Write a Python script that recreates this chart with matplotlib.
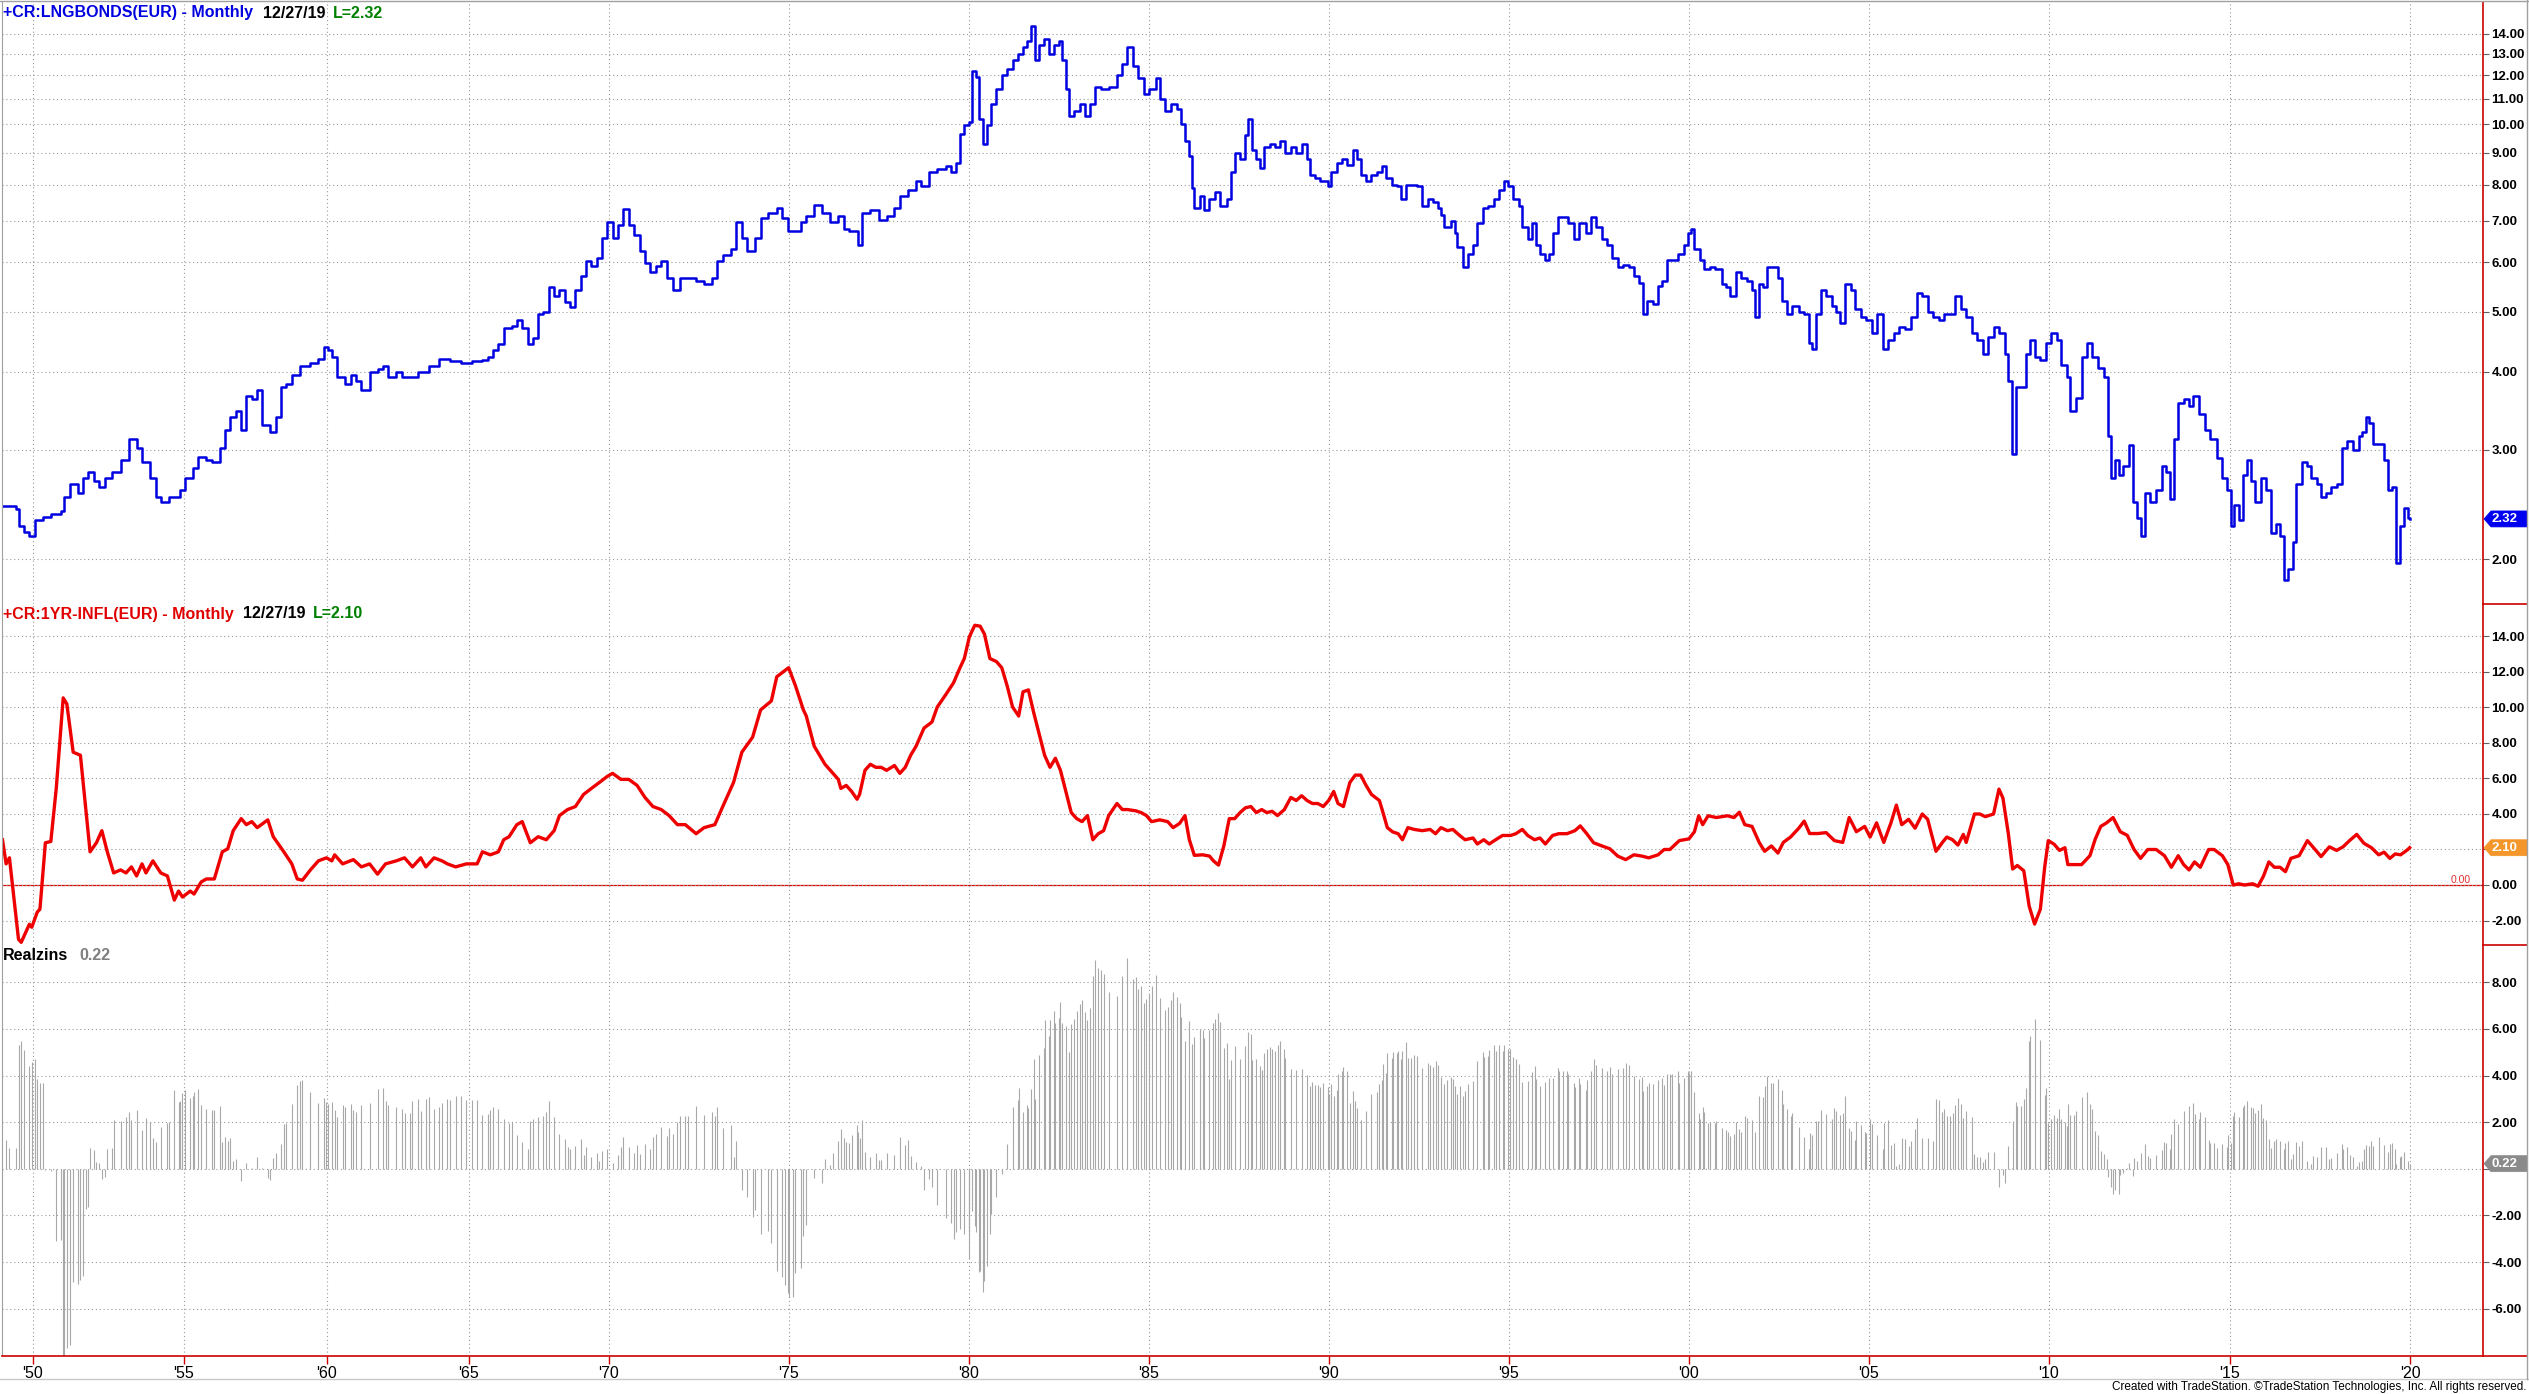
import numpy as np
import matplotlib
matplotlib.use('Agg')
import matplotlib.pyplot as plt
from matplotlib.lines import Line2D
from matplotlib.patches import Polygon
from matplotlib.ticker import NullLocator

plt.rcParams['font.family'] = ['Liberation Sans', 'DejaVu Sans']

# ---- long bond yield (monthly bars) ----
bond_years = [
    1948.99, 1949.43, 1949.52, 1949.70, 1949.88, 1950.05, 1950.32, 1950.59, 1950.94, 1951.03,
    1951.21, 1951.48, 1951.65, 1951.83, 1952.01, 1952.19, 1952.37, 1952.63, 1952.90, 1953.17,
    1953.43, 1953.61, 1953.88, 1954.06, 1954.23, 1954.50, 1954.86, 1955.04, 1955.32, 1955.50,
    1955.78, 1955.97, 1956.25, 1956.44, 1956.62, 1956.81, 1957.00, 1957.18, 1957.37, 1957.56,
    1957.74, 1958.02, 1958.21, 1958.40, 1958.58, 1958.77, 1959.05, 1959.42, 1959.70, 1959.89,
    1960.02, 1960.17, 1960.36, 1960.64, 1960.83, 1961.02, 1961.21, 1961.50, 1961.78, 1961.97,
    1962.16, 1962.44, 1962.63, 1962.92, 1963.20, 1963.58, 1963.96, 1964.34, 1964.72, 1965.10,
    1965.48, 1965.67, 1965.86, 1966.05, 1966.24, 1966.52, 1966.71, 1966.90, 1967.09, 1967.28,
    1967.47, 1967.66, 1967.85, 1968.04, 1968.23, 1968.42, 1968.61, 1968.80, 1968.99, 1969.18,
    1969.37, 1969.56, 1969.75, 1969.94, 1970.10, 1970.25, 1970.40, 1970.55, 1970.70, 1970.85,
    1971.00, 1971.15, 1971.30, 1971.45, 1971.60, 1971.79, 1971.97, 1972.19, 1972.42, 1972.64,
    1972.87, 1973.01, 1973.16, 1973.39, 1973.54, 1973.69, 1973.84, 1974.06, 1974.21, 1974.43,
    1974.66, 1974.81, 1974.96, 1975.10, 1975.33, 1975.48, 1975.70, 1975.93, 1976.15, 1976.37,
    1976.52, 1976.67, 1976.92, 1977.04, 1977.26, 1977.49, 1977.71, 1977.93, 1978.08, 1978.30,
    1978.53, 1978.68, 1978.90, 1979.12, 1979.35, 1979.49, 1979.64, 1979.75, 1979.87, 1979.99,
    1980.09, 1980.19, 1980.27, 1980.39, 1980.49, 1980.61, 1980.76, 1980.91, 1981.06, 1981.21,
    1981.36, 1981.50, 1981.61, 1981.73, 1981.83, 1981.95, 1982.07, 1982.22, 1982.37, 1982.49,
    1982.57, 1982.69, 1982.77, 1982.92, 1983.07, 1983.21, 1983.36, 1983.51, 1983.66, 1983.88,
    1984.11, 1984.26, 1984.40, 1984.55, 1984.70, 1984.85, 1985.00, 1985.19, 1985.30, 1985.45,
    1985.60, 1985.79, 1985.89, 1986.00, 1986.12, 1986.19, 1986.26, 1986.41, 1986.53, 1986.68,
    1986.83, 1986.98, 1987.16, 1987.28, 1987.38, 1987.53, 1987.68, 1987.75, 1987.87, 1987.98,
    1988.08, 1988.20, 1988.35, 1988.50, 1988.65, 1988.79, 1988.94, 1989.09, 1989.24, 1989.39,
    1989.46, 1989.61, 1989.76, 1989.96, 1990.06, 1990.21, 1990.36, 1990.51, 1990.66, 1990.77,
    1990.88, 1991.03, 1991.18, 1991.32, 1991.47, 1991.59, 1991.74, 1991.89, 1991.99, 1992.14,
    1992.29, 1992.44, 1992.59, 1992.74, 1992.89, 1993.04, 1993.11, 1993.19, 1993.38, 1993.49,
    1993.56, 1993.71, 1993.85, 1994.00, 1994.12, 1994.27, 1994.42, 1994.57, 1994.72, 1994.85,
    1994.97, 1995.12, 1995.27, 1995.37, 1995.52, 1995.64, 1995.76, 1995.86, 1996.01, 1996.12,
    1996.21, 1996.35, 1996.50, 1996.65, 1996.80, 1996.95, 1997.13, 1997.28, 1997.43, 1997.57,
    1997.72, 1997.87, 1998.02, 1998.17, 1998.32, 1998.47, 1998.62, 1998.72, 1998.84, 1998.99,
    1999.14, 1999.24, 1999.39, 1999.54, 1999.70, 1999.85, 1999.97, 2000.05, 2000.15, 2000.30,
    2000.43, 2000.58, 2000.73, 2000.91, 2001.04, 2001.14, 2001.30, 2001.45, 2001.60, 2001.75,
    2001.83, 2001.95, 2002.06, 2002.18, 2002.33, 2002.47, 2002.59, 2002.71, 2002.87, 2003.05,
    2003.20, 2003.32, 2003.43, 2003.54, 2003.66, 2003.81, 2003.96, 2004.09, 2004.19, 2004.34,
    2004.50, 2004.62, 2004.77, 2004.92, 2005.08, 2005.23, 2005.38, 2005.53, 2005.69, 2005.84,
    2005.99, 2006.17, 2006.33, 2006.48, 2006.63, 2006.78, 2006.94, 2007.09, 2007.24, 2007.39,
    2007.55, 2007.70, 2007.85, 2008.00, 2008.16, 2008.31, 2008.46, 2008.61, 2008.77, 2008.87,
    2008.96, 2009.07, 2009.22, 2009.37, 2009.48, 2009.60, 2009.76, 2009.91, 2010.06, 2010.21,
    2010.34, 2010.49, 2010.59, 2010.75, 2010.90, 2011.05, 2011.20, 2011.36, 2011.51, 2011.62,
    2011.71, 2011.81, 2011.92, 2012.04, 2012.20, 2012.32, 2012.42, 2012.53, 2012.65, 2012.80,
    2012.96, 2013.11, 2013.23, 2013.34, 2013.45, 2013.57, 2013.72, 2013.87, 2013.99, 2014.15,
    2014.30, 2014.45, 2014.63, 2014.79, 2014.91, 2015.02, 2015.12, 2015.24, 2015.37, 2015.47,
    2015.58, 2015.70, 2015.85, 2016.01, 2016.13, 2016.28, 2016.39, 2016.49, 2016.62, 2016.74,
    2016.84, 2017.00, 2017.15, 2017.26, 2017.41, 2017.53, 2017.68, 2017.80, 2017.96, 2018.11,
    2018.26, 2018.41, 2018.57, 2018.67, 2018.78, 2018.87, 2018.98, 2019.13, 2019.28, 2019.39,
    2019.51, 2019.60, 2019.71, 2019.82, 2019.94, 2019.99,
]
bond_vals = [
    2.43, 2.41, 2.26, 2.21, 2.18, 2.31, 2.34, 2.36, 2.39, 2.52,
    2.64, 2.55, 2.70, 2.76, 2.67, 2.61, 2.70, 2.76, 2.89, 3.12,
    3.02, 2.86, 2.70, 2.52, 2.47, 2.52, 2.58, 2.70, 2.80, 2.92,
    2.89, 2.86, 3.02, 3.23, 3.38, 3.46, 3.23, 3.66, 3.62, 3.74,
    3.28, 3.20, 3.38, 3.78, 3.83, 3.95, 4.09, 4.14, 4.19, 4.38,
    4.33, 4.23, 3.92, 3.83, 3.95, 3.87, 3.74, 4.00, 4.05, 4.09,
    3.92, 4.00, 3.92, 3.92, 4.00, 4.09, 4.19, 4.16, 4.14, 4.16,
    4.18, 4.23, 4.33, 4.43, 4.70, 4.74, 4.84, 4.70, 4.43, 4.53,
    4.95, 5.00, 5.47, 5.30, 5.41, 5.18, 5.08, 5.41, 5.71, 6.04,
    5.93, 6.10, 6.56, 6.96, 6.56, 6.89, 7.30, 6.89, 6.63, 6.26,
    5.99, 5.79, 5.93, 6.04, 5.66, 5.41, 5.66, 5.66, 5.60, 5.54,
    5.66, 6.04, 6.17, 6.30, 6.96, 6.56, 6.26, 6.56, 7.07, 7.20,
    7.34, 7.07, 6.73, 6.73, 6.96, 7.13, 7.42, 7.20, 6.96, 7.13,
    6.78, 6.73, 6.41, 7.20, 7.29, 7.02, 7.13, 7.33, 7.67, 7.85,
    8.12, 7.95, 8.39, 8.49, 8.58, 8.39, 8.67, 9.64, 9.98, 10.10,
    12.17, 11.91, 10.20, 9.30, 9.98, 10.80, 11.40, 12.00, 12.30, 12.70,
    13.00, 13.30, 13.60, 14.40, 12.70, 13.40, 13.70, 13.00, 13.40, 13.60,
    12.70, 11.40, 10.30, 10.50, 10.80, 10.30, 10.80, 11.50, 11.40, 11.50,
    12.00, 12.50, 13.30, 12.40, 11.90, 11.20, 11.40, 11.90, 11.00, 10.50,
    10.80, 10.60, 10.00, 9.40, 8.90, 7.90, 7.33, 7.67, 7.29, 7.60,
    7.80, 7.40, 7.60, 8.39, 9.00, 8.80, 9.60, 10.20, 9.10, 8.80,
    8.50, 9.20, 9.30, 9.20, 9.40, 9.00, 9.20, 9.00, 9.30, 8.80,
    8.30, 8.20, 8.10, 7.95, 8.39, 8.67, 8.80, 8.60, 9.10, 8.80,
    8.30, 8.10, 8.30, 8.39, 8.58, 8.20, 8.00, 7.95, 7.60, 8.00,
    8.00, 7.95, 7.40, 7.60, 7.50, 7.33, 7.15, 6.85, 7.00, 6.70,
    6.35, 5.90, 6.20, 6.40, 6.95, 7.33, 7.40, 7.60, 7.85, 8.12,
    7.95, 7.60, 7.40, 6.85, 6.55, 6.95, 6.40, 6.20, 6.05, 6.20,
    6.70, 7.10, 7.10, 6.95, 6.55, 6.95, 6.70, 7.10, 6.85, 6.55,
    6.40, 6.10, 5.90, 5.95, 5.90, 5.70, 5.55, 4.95, 5.20, 5.15,
    5.50, 5.60, 6.05, 6.05, 6.20, 6.40, 6.70, 6.78, 6.30, 6.05,
    5.85, 5.90, 5.85, 5.54, 5.47, 5.30, 5.80, 5.66, 5.60, 5.41,
    4.90, 5.54, 5.47, 5.90, 5.90, 5.66, 5.20, 4.95, 5.10, 5.00,
    4.95, 4.45, 4.36, 4.95, 5.41, 5.30, 5.10, 5.00, 4.80, 5.54,
    5.41, 5.05, 4.90, 4.85, 4.62, 4.95, 4.36, 4.50, 4.62, 4.72,
    4.68, 4.90, 5.36, 5.30, 5.00, 4.90, 4.85, 4.95, 4.95, 5.30,
    5.05, 4.90, 4.62, 4.50, 4.28, 4.55, 4.72, 4.62, 4.27, 3.86,
    2.95, 3.78, 3.78, 4.28, 4.50, 4.23, 4.18, 4.45, 4.62, 4.50,
    4.10, 3.92, 3.46, 3.63, 4.23, 4.45, 4.23, 4.06, 3.92, 3.16,
    2.70, 2.89, 2.73, 2.82, 3.05, 2.47, 2.33, 2.18, 2.55, 2.47,
    2.58, 2.82, 2.76, 2.50, 3.12, 3.57, 3.62, 3.53, 3.66, 3.42,
    3.23, 3.12, 2.91, 2.70, 2.58, 2.26, 2.44, 2.31, 2.73, 2.89,
    2.67, 2.47, 2.70, 2.58, 2.20, 2.28, 2.18, 1.85, 1.93, 2.13,
    2.64, 2.86, 2.82, 2.70, 2.64, 2.52, 2.55, 2.61, 2.64, 3.02,
    3.10, 2.99, 3.16, 3.20, 3.38, 3.31, 3.06, 3.06, 2.89, 2.58,
    2.61, 1.97, 2.26, 2.42, 2.33, 2.32,
]

# ---- 1 year inflation (line) ----
infl_years = [
    1948.99, 1949.11, 1949.22, 1949.52, 1949.61, 1949.70, 1949.88, 1949.96, 1950.14, 1950.23,
    1950.41, 1950.59, 1950.77, 1951.00, 1951.12, 1951.33, 1951.57, 1951.74, 1951.89, 1952.10,
    1952.28, 1952.46, 1952.67, 1952.90, 1953.08, 1953.26, 1953.43, 1953.61, 1953.74, 1953.97,
    1954.23, 1954.45, 1954.68, 1954.82, 1954.95, 1955.22, 1955.35, 1955.60, 1955.78, 1956.06,
    1956.34, 1956.53, 1956.72, 1957.00, 1957.18, 1957.37, 1957.56, 1957.93, 1958.12, 1958.49,
    1958.77, 1958.96, 1959.14, 1959.42, 1959.70, 1959.98, 1960.17, 1960.27, 1960.55, 1960.93,
    1961.21, 1961.50, 1961.78, 1962.06, 1962.44, 1962.73, 1963.01, 1963.30, 1963.48, 1963.77,
    1964.05, 1964.24, 1964.53, 1964.91, 1965.29, 1965.48, 1965.76, 1966.05, 1966.24, 1966.43,
    1966.71, 1966.90, 1967.19, 1967.47, 1967.76, 1968.04, 1968.23, 1968.52, 1968.80, 1969.09,
    1969.37, 1969.66, 1969.94, 1970.10, 1970.33, 1970.55, 1970.78, 1971.00, 1971.22, 1971.45,
    1971.67, 1971.90, 1972.12, 1972.42, 1972.64, 1972.94, 1973.16, 1973.46, 1973.69, 1973.99,
    1974.21, 1974.51, 1974.66, 1974.88, 1974.99, 1975.18, 1975.40, 1975.48, 1975.70, 1976.00,
    1976.22, 1976.37, 1976.44, 1976.59, 1976.74, 1976.89, 1976.96, 1977.11, 1977.26, 1977.41,
    1977.56, 1977.71, 1977.93, 1978.08, 1978.23, 1978.38, 1978.53, 1978.75, 1978.97, 1979.12,
    1979.35, 1979.57, 1979.75, 1979.87, 1980.01, 1980.16, 1980.31, 1980.43, 1980.58, 1980.76,
    1980.91, 1981.06, 1981.21, 1981.38, 1981.50, 1981.65, 1981.80, 1981.95, 1982.10, 1982.25,
    1982.40, 1982.54, 1982.69, 1982.84, 1982.99, 1983.14, 1983.29, 1983.44, 1983.59, 1983.74,
    1983.88, 1984.11, 1984.26, 1984.40, 1984.63, 1984.78, 1984.93, 1985.07, 1985.30, 1985.52,
    1985.67, 1985.85, 1986.00, 1986.12, 1986.26, 1986.49, 1986.68, 1986.79, 1986.93, 1987.08,
    1987.23, 1987.38, 1987.53, 1987.68, 1987.83, 1987.98, 1988.13, 1988.27, 1988.42, 1988.57,
    1988.76, 1988.94, 1989.09, 1989.24, 1989.39, 1989.54, 1989.69, 1989.84, 1989.99, 1990.13,
    1990.25, 1990.40, 1990.58, 1990.73, 1990.88, 1991.03, 1991.18, 1991.40, 1991.50, 1991.62,
    1991.77, 1991.92, 1992.04, 1992.19, 1992.37, 1992.59, 1992.81, 1992.96, 1993.11, 1993.29,
    1993.44, 1993.63, 1993.78, 1994.00, 1994.12, 1994.30, 1994.45, 1994.63, 1994.82, 1995.04,
    1995.19, 1995.37, 1995.52, 1995.71, 1995.86, 1996.01, 1996.21, 1996.38, 1996.61, 1996.83,
    1996.98, 1997.16, 1997.35, 1997.57, 1997.80, 1998.02, 1998.24, 1998.47, 1998.69, 1998.88,
    1999.14, 1999.31, 1999.47, 1999.73, 2000.00, 2000.15, 2000.27, 2000.38, 2000.53, 2000.76,
    2001.07, 2001.25, 2001.40, 2001.55, 2001.75, 2001.95, 2002.10, 2002.29, 2002.47, 2002.62,
    2002.82, 2003.05, 2003.20, 2003.35, 2003.58, 2003.81, 2004.04, 2004.27, 2004.45, 2004.65,
    2004.88, 2005.03, 2005.21, 2005.41, 2005.61, 2005.76, 2005.91, 2006.10, 2006.28, 2006.48,
    2006.63, 2006.86, 2007.04, 2007.16, 2007.32, 2007.47, 2007.62, 2007.70, 2007.93, 2008.08,
    2008.23, 2008.46, 2008.61, 2008.72, 2008.87, 2008.99, 2009.12, 2009.30, 2009.45, 2009.60,
    2009.76, 2009.88, 2009.98, 2010.14, 2010.29, 2010.44, 2010.52, 2010.70, 2010.90, 2011.13,
    2011.28, 2011.43, 2011.59, 2011.77, 2011.97, 2012.16, 2012.35, 2012.53, 2012.73, 2012.96,
    2013.19, 2013.38, 2013.57, 2013.72, 2013.87, 2014.02, 2014.18, 2014.41, 2014.56, 2014.79,
    2014.94, 2015.09, 2015.24, 2015.40, 2015.63, 2015.78, 2015.93, 2016.08, 2016.23, 2016.39,
    2016.54, 2016.69, 2016.92, 2017.15, 2017.30, 2017.53, 2017.76, 2017.96, 2018.14, 2018.32,
    2018.52, 2018.72, 2018.93, 2019.13, 2019.28, 2019.44, 2019.59, 2019.74, 2019.94, 2019.99,
]
infl_vals = [
    2.55, 1.19, 1.53, -3.06, -3.23, -2.89, -2.21, -2.38, -1.53, -1.36,
    2.38, 2.45, 5.44, 10.54, 10.20, 7.48, 7.31, 4.42, 1.87, 2.38,
    3.06, 1.87, 0.68, 0.85, 0.68, 1.02, 0.51, 1.19, 0.68, 1.36,
    0.68, 0.51, -0.85, -0.34, -0.68, -0.34, -0.51, 0.17, 0.34, 0.34,
    1.87, 2.04, 3.06, 3.74, 3.40, 3.57, 3.23, 3.67, 2.72, 1.87,
    1.19, 0.34, 0.27, 0.85, 1.36, 1.53, 1.36, 1.70, 1.19, 1.43,
    1.02, 1.19, 0.61, 1.19, 1.36, 1.53, 1.02, 1.53, 1.02, 1.53,
    1.36, 1.19, 1.02, 1.19, 1.19, 1.87, 1.70, 1.87, 2.55, 2.72,
    3.40, 3.57, 2.38, 2.72, 2.55, 3.06, 3.91, 4.25, 4.42, 5.10,
    5.44, 5.78, 6.12, 6.29, 5.95, 5.95, 5.61, 4.93, 4.42, 4.25,
    3.91, 3.40, 3.40, 2.89, 3.23, 3.40, 4.42, 5.78, 7.48, 8.33,
    9.86, 10.37, 11.73, 12.07, 12.24, 11.22, 9.86, 9.52, 7.82, 6.80,
    6.29, 5.95, 5.44, 5.61, 5.27, 4.83, 5.10, 6.46, 6.80, 6.63,
    6.63, 6.46, 6.73, 6.29, 6.63, 7.31, 7.82, 8.84, 9.18, 10.03,
    10.71, 11.39, 12.24, 12.76, 13.98, 14.63, 14.58, 14.13, 12.76, 12.59,
    12.24, 11.22, 10.03, 9.52, 10.88, 10.99, 9.69, 8.50, 7.31, 6.63,
    7.14, 6.46, 5.27, 4.08, 3.74, 3.57, 3.91, 2.55, 2.89, 3.06,
    3.91, 4.59, 4.25, 4.25, 4.18, 4.08, 3.91, 3.57, 3.67, 3.57,
    3.23, 3.47, 3.91, 2.55, 1.67, 1.70, 1.63, 1.36, 1.12, 2.21,
    3.74, 3.74, 4.08, 4.35, 4.42, 4.08, 4.25, 4.08, 4.15, 3.91,
    4.25, 4.93, 4.76, 5.03, 4.76, 4.59, 4.59, 4.42, 4.76, 5.27,
    4.59, 4.42, 5.78, 6.19, 6.19, 5.61, 5.10, 4.76, 4.08, 3.23,
    2.99, 2.89, 2.55, 3.23, 3.13, 3.06, 3.13, 2.89, 3.23, 3.06,
    3.13, 2.79, 2.55, 2.65, 2.31, 2.55, 2.31, 2.55, 2.79, 2.79,
    2.89, 3.13, 2.79, 2.55, 2.65, 2.31, 2.79, 2.89, 2.89, 3.06,
    3.33, 2.89, 2.38, 2.21, 2.04, 1.63, 1.43, 1.70, 1.63, 1.53,
    1.70, 2.00, 2.00, 2.50, 2.60, 3.00, 3.90, 3.40, 3.90, 3.80,
    3.90, 3.80, 4.10, 3.40, 3.30, 2.40, 1.90, 2.20, 1.80, 2.40,
    2.70, 3.20, 3.60, 2.90, 2.90, 2.95, 2.50, 2.40, 3.80, 3.00,
    3.30, 2.70, 3.50, 2.40, 3.50, 4.50, 3.40, 3.70, 3.20, 4.00,
    3.70, 1.90, 2.40, 2.70, 2.55, 2.25, 2.85, 2.40, 4.00, 4.00,
    3.85, 4.00, 5.40, 4.90, 2.90, 0.90, 1.10, 0.80, -1.20, -2.20,
    -1.36, 1.00, 2.50, 2.30, 1.95, 2.10, 1.15, 1.15, 1.15, 1.65,
    2.60, 3.30, 3.50, 3.80, 3.00, 2.80, 2.00, 1.50, 2.00, 2.00,
    1.65, 1.00, 1.65, 1.15, 0.85, 1.30, 1.00, 2.00, 2.00, 1.65,
    1.15, 0.00, 0.07, 0.00, 0.07, -0.07, 0.50, 1.30, 1.00, 1.00,
    0.75, 1.50, 1.65, 2.50, 2.15, 1.60, 2.15, 1.95, 2.15, 2.50,
    2.85, 2.35, 2.10, 1.70, 1.85, 1.50, 1.75, 1.70, 2.00, 2.10,
]

# Realzins = long bond yield minus inflation, at every reading of either series
# (each series holds its last reading, as a monthly bar chart does)
_b_years = np.array(bond_years)
_b_vals = np.array(bond_vals)
_i_years = np.array(infl_years)
_i_vals = np.array(infl_vals)
real_years = np.union1d(_b_years, _i_years)
_bi = np.clip(np.searchsorted(_b_years, real_years, side='right') - 1, 0, None)
_ii = np.clip(np.searchsorted(_i_years, real_years, side='right') - 1, 0, None)
real_vals = _b_vals[_bi] - _i_vals[_ii]

# ---- layout (pixels of a 2529 x 1394 canvas) ----
W, H = 2529, 1394
fig = plt.figure(figsize=(W / 100, H / 100), dpi=100)
fig.patch.set_facecolor('white')

RED = '#cc0000'
GRID = '#9a9a9a'
NARROW = ['Liberation Sans Narrow', 'Liberation Sans', 'DejaVu Sans']

tick_years = [1950, 1955, 1960, 1965, 1970, 1975, 1980, 1985, 1990, 1995, 2000, 2005, 2010, 2015, 2020]
tick_px = [33, 184, 327, 469, 609, 789, 969, 1149, 1329, 1509, 1689, 1869, 2049, 2230, 2410]
tick_labels = ["'50", "'55", "'60", "'65", "'70", "'75", "'80", "'85", "'90", "'95",
               "'00", "'05", "'10", "'15", "'20"]

anc_y = np.array([1900] + tick_years + [2100], dtype=float)
anc_p = np.array([33 - 50 * 30.2] + tick_px + [2410 + 80 * 36], dtype=float)


def fwd(x):
    return np.interp(x, anc_y, anc_p)


def inv(p):
    return np.interp(p, anc_p, anc_y)


LEFT, RIGHT = 2, 2483


def fx(px):
    return px / W


def fy(py):
    return 1 - py / H


def make_ax(top, bottom):
    ax = fig.add_axes([fx(LEFT), fy(bottom), (RIGHT - LEFT) / W, (bottom - top) / H])
    ax.set_xscale('function', functions=(fwd, inv))
    ax.set_xlim(inv(LEFT), inv(RIGHT))
    ax.set_xticks(tick_years)
    ax.xaxis.set_minor_locator(NullLocator())
    ax.yaxis.tick_right()
    ax.tick_params(axis='y', direction='out', length=4, width=0.8, color='#606060',
                   labelsize=9.5, pad=2)
    ax.tick_params(axis='x', length=0, labelbottom=False)
    ax.grid(True, color=GRID, linestyle=(0, (1, 2.5)), linewidth=0.8)
    for s in ['top', 'bottom']:
        ax.spines[s].set_visible(False)
    ax.spines['left'].set_color('#a0a0a0')
    ax.spines['right'].set_color(RED)
    ax.spines['right'].set_linewidth(1.2)
    return ax


def bold_ticks(ax, ticks, hide=()):
    ax.set_yticks(ticks)
    ax.set_yticklabels(['' if t in hide else '%.2f' % t for t in ticks], fontweight='bold')
    ax.yaxis.set_minor_locator(NullLocator())


# top panel: long bond yield, log scale
ax1 = make_ax(2, 604)
ax1.set_yscale('log')
ax1.set_ylim(1.693, 15.74)
bold_ticks(ax1, [2, 3, 4, 5, 6, 7, 8, 9, 10, 11, 12, 13, 14])
ax1.step(bond_years, bond_vals, where='post', color='#0000e0', lw=1.8)

# middle panel: inflation
ax2 = make_ax(604.7, 945)
ax2.set_ylim(-3.38, 15.79)
bold_ticks(ax2, [-2, 0, 2, 4, 6, 8, 10, 12, 14])
ax2.axhline(0, color='#e00000', lw=0.9, zorder=1)
ax2.plot(infl_years, infl_vals, color='#ee0000', lw=2.4)

# bottom panel: real rate histogram (0.00 label sits under the last-value tag)
ax3 = make_ax(945, 1356)
ax3.set_ylim(-8.03, 9.60)
bold_ticks(ax3, [-6, -4, -2, 0, 2, 4, 6, 8], hide=(0,))
ax3.vlines(real_years, 0, real_vals, color='#a8a8a8', lw=0.8)
ax3.spines['bottom'].set_visible(True)
ax3.spines['bottom'].set_color(RED)
ax3.spines['bottom'].set_linewidth(1.2)
ax3.tick_params(axis='x', length=6, width=1, color=RED, labelbottom=True, labelsize=11.5, pad=1)
ax3.set_xticklabels(tick_labels)
for lab in ax3.get_xticklabels():
    lab.set_family(NARROW)


# ---- frame lines ----
def hline(y, xa, xb, color, lw=1.0):
    fig.add_artist(Line2D([fx(xa), fx(xb)], [fy(y), fy(y)], color=color, lw=lw))


def vline(x, ya, yb, color, lw=1.0):
    fig.add_artist(Line2D([fx(x), fx(x)], [fy(ya), fy(yb)], color=color, lw=lw))


hline(1, 0, W, '#a0a0a0')
hline(604, RIGHT, 2527, RED, 1.2)
hline(945, RIGHT, 2527, RED, 1.2)
hline(1356, RIGHT, 2527, RED, 1.2)
hline(1379, 0, W, '#c8c8c8')
vline(2527, 0, 1379, '#a0a0a0')


# ---- titles ----
def title(parts, y):
    for x, s, c in parts:
        fig.text(fx(x), fy(y), s, color=c, fontsize=11.5, fontweight='bold',
                 ha='left', va='center')


title([(3, '+CR:LNGBONDS(EUR) - Monthly', '#0000e0'), (263, '12/27/19', 'black'),
       (333, 'L=2.32', '#008000')], 13)
title([(3, '+CR:1YR-INFL(EUR) - Monthly', '#e00000'), (243, '12/27/19', 'black'),
       (313, 'L=2.10', '#008000')], 614)
title([(3, 'Realzins', 'black'), (79, '0.22', '#808080')], 955)


# ---- last value tags on the price axis ----
def tag(ax, value, text, color):
    ypx = H - ax.transData.transform((inv(LEFT), value))[1]
    pts = [(2484, ypx), (2491, ypx - 8), (2527, ypx - 8), (2527, ypx + 8), (2491, ypx + 8)]
    fig.add_artist(Polygon([(fx(a), fy(b)) for a, b in pts], closed=True,
                           facecolor=color, edgecolor=color, lw=0.5))
    fig.text(fx(2492), fy(ypx), text, color='white', fontsize=9.5, fontweight='bold',
             ha='left', va='center')


tag(ax1, bond_vals[-1], '%.2f' % bond_vals[-1], '#0000f0')
tag(ax2, infl_vals[-1], '%.2f' % infl_vals[-1], '#f5962a')
tag(ax3, real_vals[-1], '%.2f' % real_vals[-1], '#8a8a8a')

ax2.text(0.995, 0, '0.00', transform=ax2.get_yaxis_transform(), color='#e03030',
         fontsize=7.5, ha='right', va='bottom')

fig.text(fx(2526), fy(1387), 'Created with TradeStation. \u00a9TradeStation Technologies, Inc. All rights reserved.',
         family=NARROW, fontsize=8.5, ha='right', va='center', color='black')

fig.savefig('out.png', dpi=100, facecolor='white')
